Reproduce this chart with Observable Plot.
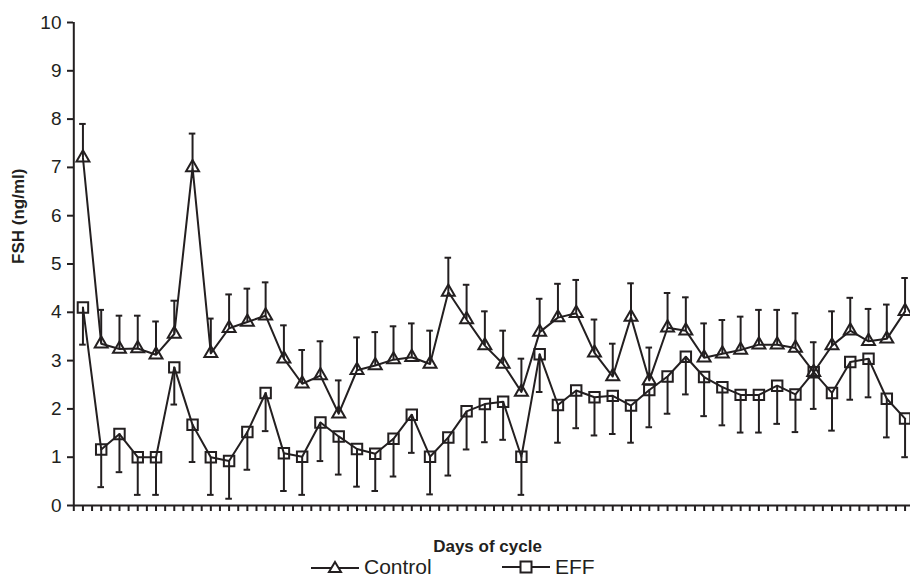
<!DOCTYPE html>
<html>
<head>
<meta charset="utf-8">
<script src="https://cdn.jsdelivr.net/npm/d3@7"></script>
<script src="https://cdn.jsdelivr.net/npm/@observablehq/plot@0.6"></script>
<style>
  html, body { margin: 0; padding: 0; background: #fff; overflow: hidden; }
  #wrap { position: relative; width: 910px; height: 587px; font-family: "Liberation Sans", Arial, sans-serif; color: #231f20; }
  #xlabel { position: absolute; left: 0; width: 975px; text-align: center; top: 538px; font-size: 17px; font-weight: bold; line-height: 17px; }
  .leg { position: absolute; top: 556px; height: 22px; display: flex; align-items: center; font-size: 21px; line-height: 22px; }
  .leg svg { margin-right: 5px; }
</style>
</head>
<body>
<div id="wrap">
  <div id="chart"></div>
  <div id="xlabel"></div>
  <div id="legend"></div>
</div>
<script>
// Days of the cycle (categories)
const days = [1,2,3,4,5,6,7,8,9,10,11,12,13,14,15,16,17,18,19,20,21,22,23,24,25,26,27,28,29,30,31,32,33,34,35,36,37,38,39,40,41,42,43,44,45,46];

// Control: mean FSH and top of error bar
const control = [7.2,3.35,3.24,3.25,3.12,3.55,7.0,3.15,3.67,3.8,3.93,3.04,2.52,2.69,1.9,2.8,2.9,3.02,3.07,2.93,4.42,3.85,3.31,2.93,2.35,3.59,3.89,3.98,3.16,2.67,3.9,2.59,3.68,3.62,3.06,3.14,3.22,3.33,3.33,3.26,2.76,3.31,3.62,3.4,3.45,4.02];
const controlUpper = [7.9,4.05,3.93,3.93,3.81,4.24,7.7,3.87,4.37,4.49,4.62,3.73,3.22,3.4,2.59,3.48,3.59,3.71,3.77,3.62,5.13,4.57,4.02,3.62,3.04,4.28,4.59,4.67,3.85,3.35,4.6,3.27,4.4,4.31,3.77,3.84,3.91,4.05,4.05,3.98,3.38,4.02,4.3,4.07,4.16,4.71];

// EFF: mean FSH and bottom of error bar
const eff = [4.1,1.16,1.48,1.0,1.0,2.86,1.67,1.0,0.92,1.52,2.33,1.08,1.01,1.72,1.43,1.17,1.07,1.38,1.88,1.01,1.41,1.95,2.1,2.15,1.01,3.13,2.08,2.38,2.24,2.27,2.07,2.39,2.67,3.08,2.66,2.45,2.29,2.29,2.48,2.3,2.76,2.33,2.97,3.04,2.21,1.8];
const effLower = [3.33,0.38,0.69,0.22,0.22,2.09,0.9,0.22,0.14,0.74,1.54,0.3,0.22,0.92,0.64,0.39,0.3,0.6,1.09,0.23,0.62,1.16,1.31,1.36,0.22,2.35,1.3,1.6,1.45,1.48,1.3,1.62,1.9,2.3,1.85,1.66,1.51,1.51,1.69,1.52,2.0,1.55,2.19,2.24,1.41,1.0];

// Axis ticks
const yTicks = [0,1,2,3,4,5,6,7,8,9,10];
const xTickMarks = [];
for (let i = 0; i <= days.length * 2; i++) xTickMarks.push(0.5 + i / 2);

const yLabel = "FSH (ng/ml)";
const xLabel = "Days of cycle";
const seriesNames = ["Control", "EFF"];

const ink = "#231f20";
const rows = days.map((d, i) => ({day: d, control: control[i], controlUp: controlUpper[i], eff: eff[i], effLo: effLower[i]}));
const capHalf = 0.18;

const chart = Plot.plot({
  width: 910,
  height: 515,
  marginLeft: 73,
  marginRight: 0,
  marginTop: 22,
  marginBottom: 10,
  x: {domain: [0.5, days.length + 0.5], range: [73.3, 913.7], axis: null},
  y: {domain: [0, 10], axis: null},
  style: {fontFamily: "Liberation Sans, Arial, sans-serif", color: ink, background: "white", overflow: "hidden"},
  marks: [
    // error bars
    Plot.ruleX(rows, {x: "day", y1: "control", y2: "controlUp", stroke: ink, strokeWidth: 2}),
    Plot.ruleY(rows, {y: "controlUp", x1: d => d.day - capHalf, x2: d => d.day + capHalf, stroke: ink, strokeWidth: 2}),
    Plot.ruleX(rows, {x: "day", y1: "eff", y2: "effLo", stroke: ink, strokeWidth: 2}),
    Plot.ruleY(rows, {y: "effLo", x1: d => d.day - capHalf, x2: d => d.day + capHalf, stroke: ink, strokeWidth: 2}),
    // series lines
    Plot.line(rows, {x: "day", y: "control", stroke: ink, strokeWidth: 2}),
    Plot.line(rows, {x: "day", y: "eff", stroke: ink, strokeWidth: 2}),
    // markers
    Plot.dot(rows, {x: "day", y: "control", symbol: "triangle", r: 4.8, stroke: ink, strokeWidth: 2, fill: "none"}),
    Plot.dot(rows, {x: "day", y: "eff", symbol: "square", r: 5.9, stroke: ink, strokeWidth: 2, fill: "none"}),
    // axes
    Plot.axisY({ticks: yTicks, tickSize: 6, tickPadding: 6, fontSize: 19, label: null, stroke: ink, strokeWidth: 2, fill: ink}),
    Plot.axisX({ticks: xTickMarks, tickSize: 6, tickFormat: () => "", label: null, stroke: ink, strokeWidth: 2}),
    Plot.ruleX([0.5], {stroke: ink, strokeWidth: 2}),
    Plot.ruleY([0], {stroke: ink, strokeWidth: 2}),
    Plot.text([yLabel], {frameAnchor: "left", dx: -55, rotate: -90, fontSize: 17, fontWeight: "bold", fill: ink, text: d => d})
  ]
});
document.getElementById("chart").appendChild(chart);
document.getElementById("xlabel").textContent = xLabel;

// legend
const legend = document.getElementById("legend");
const glyphs = {
  Control: `<svg width="48" height="16" viewBox="0 0 48 16"><line x1="0" y1="9" x2="48" y2="9" stroke="${ink}" stroke-width="2"/><path d="M24,3 L30,13 L18,13 Z" fill="white" stroke="${ink}" stroke-width="2"/></svg>`,
  EFF: `<svg width="48" height="16" viewBox="0 0 48 16"><line x1="0" y1="8" x2="48" y2="8" stroke="${ink}" stroke-width="2"/><rect x="18.5" y="2.5" width="11" height="11" fill="white" stroke="${ink}" stroke-width="2"/></svg>`
};
const legLeft = [311, 502];
seriesNames.forEach((name, i) => {
  const el = document.createElement("div");
  el.className = "leg";
  el.style.left = legLeft[i] + "px";
  el.innerHTML = glyphs[name] + `<span>${name}</span>`;
  legend.appendChild(el);
});
</script>
</body>
</html>
